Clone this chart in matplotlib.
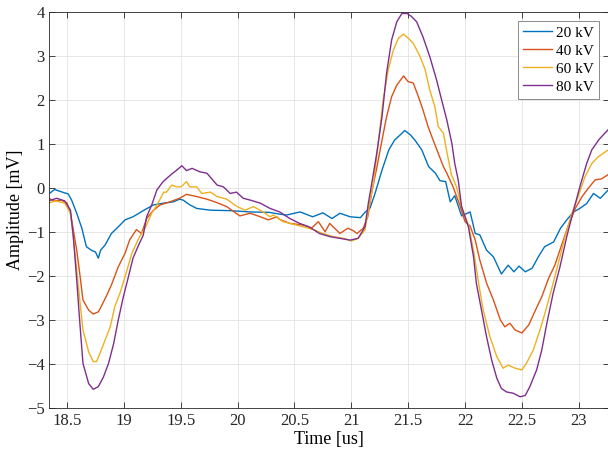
import matplotlib
matplotlib.use("Agg")
import matplotlib.pyplot as plt

plt.rcParams['font.family'] = ['Liberation Serif', 'DejaVu Serif']

# 20 kV
t_20 = [18.35, 18.39, 18.47, 18.51, 18.54, 18.585, 18.63, 18.67, 18.72, 18.75, 18.775, 18.795,
        18.835, 18.89, 18.95, 19.01, 19.08, 19.17, 19.26, 19.35, 19.435, 19.49, 19.52, 19.58,
        19.64, 19.76, 19.93, 20.11, 20.28, 20.37, 20.43, 20.55, 20.66, 20.75, 20.83, 20.9,
        20.99, 21.08, 21.12, 21.165, 21.21, 21.27, 21.33, 21.38, 21.43, 21.47, 21.52, 21.56,
        21.62, 21.68, 21.74, 21.78, 21.83, 21.87, 21.91, 21.97, 22.045, 22.09, 22.13, 22.19,
        22.25, 22.32, 22.38, 22.43, 22.475, 22.53, 22.59, 22.645, 22.70, 22.78, 22.84, 22.895,
        22.955, 23.01, 23.07, 23.13, 23.19, 23.26]
v_20 = [-0.12, -0.04, -0.11, -0.14, -0.28, -0.58, -0.92, -1.34, -1.43, -1.46, -1.60, -1.42,
        -1.30, -1.04, -0.89, -0.73, -0.66, -0.52, -0.39, -0.35, -0.32, -0.26, -0.28, -0.39,
        -0.47, -0.51, -0.52, -0.55, -0.56, -0.60, -0.62, -0.55, -0.66, -0.57, -0.70, -0.58,
        -0.66, -0.68, -0.56, -0.46, -0.12, 0.40, 0.86, 1.08, 1.20, 1.30, 1.20, 1.08,
        0.86, 0.48, 0.33, 0.16, 0.14, -0.32, -0.18, -0.64, -0.55, -1.04, -1.07, -1.42,
        -1.57, -1.96, -1.76, -1.91, -1.78, -1.91, -1.83, -1.57, -1.34, -1.23, -0.92, -0.73,
        -0.55, -0.47, -0.36, -0.13, -0.24, -0.05]

# 40 kV
t_40 = [18.335, 18.39, 18.45, 18.5, 18.53, 18.555, 18.585, 18.615, 18.64, 18.69, 18.73, 18.775,
        18.8, 18.85, 18.89, 18.95, 19.01, 19.05, 19.11, 19.155, 19.2, 19.26, 19.32, 19.405,
        19.49, 19.55, 19.64, 19.73, 19.82, 19.905, 20.02, 20.11, 20.2, 20.27, 20.345, 20.37,
        20.46, 20.58, 20.65, 20.71, 20.77, 20.81, 20.9, 20.97, 21.02, 21.05, 21.105, 21.145,
        21.18, 21.22, 21.27, 21.31, 21.355, 21.4, 21.46, 21.50, 21.545, 21.59, 21.63, 21.675,
        21.72, 21.765, 21.81, 21.84, 21.895, 21.955, 22.0, 22.045, 22.09, 22.13, 22.19, 22.25,
        22.31, 22.35, 22.395, 22.44, 22.5, 22.56, 22.62, 22.675, 22.735, 22.79, 22.85, 22.91,
        22.97, 23.03, 23.085, 23.145, 23.2, 23.26]
v_40 = [-0.24, -0.30, -0.28, -0.35, -0.58, -0.96, -1.42, -2.02, -2.55, -2.78, -2.87, -2.82,
        -2.70, -2.44, -2.21, -1.80, -1.49, -1.19, -0.95, -1.04, -0.70, -0.51, -0.39, -0.32,
        -0.24, -0.15, -0.20, -0.26, -0.34, -0.43, -0.64, -0.58, -0.66, -0.73, -0.66, -0.72,
        -0.81, -0.85, -0.92, -0.77, -1.00, -0.81, -1.04, -0.92, -0.98, -1.04, -0.92, -0.66,
        -0.10, 0.40, 1.08, 1.61, 2.07, 2.33, 2.54, 2.41, 2.38, 2.07, 1.77, 1.39,
        1.08, 0.78, 0.48, 0.33, 0.02, -0.40, -0.77, -0.87, -1.19, -1.64, -2.17, -2.55,
        -3.00, -3.16, -3.08, -3.23, -3.30, -3.12, -2.78, -2.48, -2.06, -1.76, -1.30, -0.85,
        -0.47, -0.20, -0.01, 0.18, 0.20, 0.30]

# 60 kV
t_60 = [18.335, 18.4, 18.48, 18.53, 18.555, 18.585, 18.615, 18.64, 18.69, 18.73, 18.76, 18.79,
        18.835, 18.88, 18.92, 18.965, 19.01, 19.07, 19.13, 19.185, 19.245, 19.3, 19.35, 19.375,
        19.42, 19.465, 19.5, 19.52, 19.55, 19.58, 19.64, 19.685, 19.76, 19.82, 19.905, 19.99,
        20.065, 20.14, 20.225, 20.285, 20.315, 20.4, 20.49, 20.58, 20.665, 20.75, 20.84, 20.93,
        21.0, 21.06, 21.12, 21.15, 21.195, 21.24, 21.28, 21.325, 21.37, 21.415, 21.46, 21.5,
        21.545, 21.605, 21.65, 21.69, 21.735, 21.765, 21.81, 21.84, 21.88, 21.925, 21.97, 22.03,
        22.075, 22.12, 22.16, 22.22, 22.28, 22.335, 22.38, 22.44, 22.5, 22.54, 22.6, 22.66,
        22.72, 22.775, 22.835, 22.88, 22.94, 22.995, 23.055, 23.115, 23.17, 23.26]
v_60 = [-0.35, -0.30, -0.35, -0.58, -1.11, -1.87, -2.63, -3.23, -3.73, -3.95, -3.95, -3.76,
        -3.46, -3.16, -2.70, -2.40, -2.02, -1.49, -1.15, -0.92, -0.58, -0.35, -0.10, -0.10,
        0.06, 0.02, 0.02, 0.06, 0.14, 0.02, 0.02, -0.13, -0.10, -0.20, -0.26, -0.42,
        -0.51, -0.43, -0.55, -0.66, -0.62, -0.77, -0.83, -0.89, -0.95, -1.04, -1.11, -1.15,
        -1.21, -1.15, -0.96, -0.51, 0.10, 1.08, 1.99, 2.68, 3.13, 3.40, 3.49, 3.40,
        3.28, 2.98, 2.68, 2.22, 1.84, 1.39, 1.24, 0.82, 0.30, 0.02, -0.43, -0.85,
        -1.42, -2.17, -2.78, -3.39, -3.84, -4.10, -4.03, -4.10, -4.14, -3.99, -3.69, -3.23,
        -2.70, -2.17, -1.57, -1.11, -0.58, -0.20, 0.25, 0.55, 0.70, 0.86]

# 80 kV
t_80 = [18.335, 18.41, 18.48, 18.53, 18.555, 18.585, 18.615, 18.64, 18.69, 18.73, 18.775, 18.82,
        18.865, 18.91, 18.95, 18.995, 19.04, 19.08, 19.13, 19.17, 19.2, 19.245, 19.29, 19.345,
        19.42, 19.465, 19.51, 19.55, 19.6, 19.67, 19.73, 19.77, 19.82, 19.875, 19.935, 19.99,
        20.05, 20.11, 20.2, 20.285, 20.37, 20.46, 20.545, 20.63, 20.72, 20.81, 20.9, 20.99,
        21.06, 21.12, 21.15, 21.18, 21.225, 21.27, 21.31, 21.355, 21.4, 21.445, 21.49, 21.53,
        21.575, 21.63, 21.69, 21.75, 21.795, 21.84, 21.885, 21.91, 21.94, 21.97, 22.03, 22.075,
        22.1, 22.145, 22.19, 22.235, 22.28, 22.32, 22.365, 22.425, 22.485, 22.53, 22.57, 22.63,
        22.675, 22.72, 22.775, 22.835, 22.895, 22.955, 23.01, 23.07, 23.115, 23.18, 23.27]
v_80 = [-0.30, -0.24, -0.30, -0.51, -1.11, -2.10, -3.16, -3.99, -4.45, -4.58, -4.52, -4.30,
        -3.99, -3.54, -3.01, -2.48, -2.02, -1.60, -1.30, -1.08, -0.66, -0.39, -0.05, 0.14,
        0.31, 0.40, 0.50, 0.39, 0.44, 0.36, 0.33, 0.21, 0.06, 0.02, -0.13, -0.10,
        -0.24, -0.28, -0.35, -0.47, -0.55, -0.70, -0.81, -0.89, -1.04, -1.11, -1.15, -1.19,
        -1.15, -0.89, -0.35, 0.10, 0.80, 1.61, 2.60, 3.36, 3.77, 3.96, 3.96, 3.89,
        3.77, 3.43, 2.98, 2.45, 1.99, 1.54, 1.00, 0.55, 0.18, -0.43, -0.89, -1.57,
        -2.17, -2.78, -3.39, -3.92, -4.33, -4.56, -4.64, -4.67, -4.75, -4.72, -4.52, -4.14,
        -3.69, -3.08, -2.40, -1.80, -1.11, -0.51, 0.02, 0.55, 0.86, 1.10, 1.35]

series = [(t_20, v_20, '20 kV', '#0072BD'),
          (t_40, v_40, '40 kV', '#D95319'),
          (t_60, v_60, '60 kV', '#EDB120'),
          (t_80, v_80, '80 kV', '#7E2F8E')]

fig = plt.figure(figsize=(6.08, 4.53), dpi=100)
ax = fig.add_axes([0.0813, 0.0998, 0.921, 0.8744])

for t, v, lab, c in series:
    ax.plot(t, v, color=c, lw=1.0, label=lab)

ax.set_xlim(18.345, 23.27)
ax.set_ylim(-5, 4)
ax.set_xticks([18.5, 19, 19.5, 20, 20.5, 21, 21.5, 22, 22.5, 23])
ax.set_xticklabels(['18.5', '19', '19.5', '20', '20.5', '21', '21.5', '22', '22.5', '23'])
ax.set_yticks(range(-5, 5))
ax.grid(True, color='#e3e3e3', lw=0.6)
ax.set_axisbelow(True)
ax.tick_params(direction='in', top=True, right=True, labelsize=12, colors='#262626',
               length=4, width=0.6)
for s in ax.spines.values():
    s.set_color('#262626')
    s.set_linewidth(0.6)

ax.set_xlabel('Time [us]', fontsize=13, labelpad=2)
ax.set_ylabel('Amplitude [mV]', fontsize=13, labelpad=2)

leg = ax.legend(loc='upper right', bbox_to_anchor=(0.981, 0.977), fontsize=11,
                fancybox=False, framealpha=1, edgecolor='#777777',
                handlelength=1.9, handletextpad=0.2, labelspacing=0.28,
                borderpad=0.35, borderaxespad=0)
leg.get_frame().set_linewidth(0.6)

fig.savefig('out.png', dpi=100)
